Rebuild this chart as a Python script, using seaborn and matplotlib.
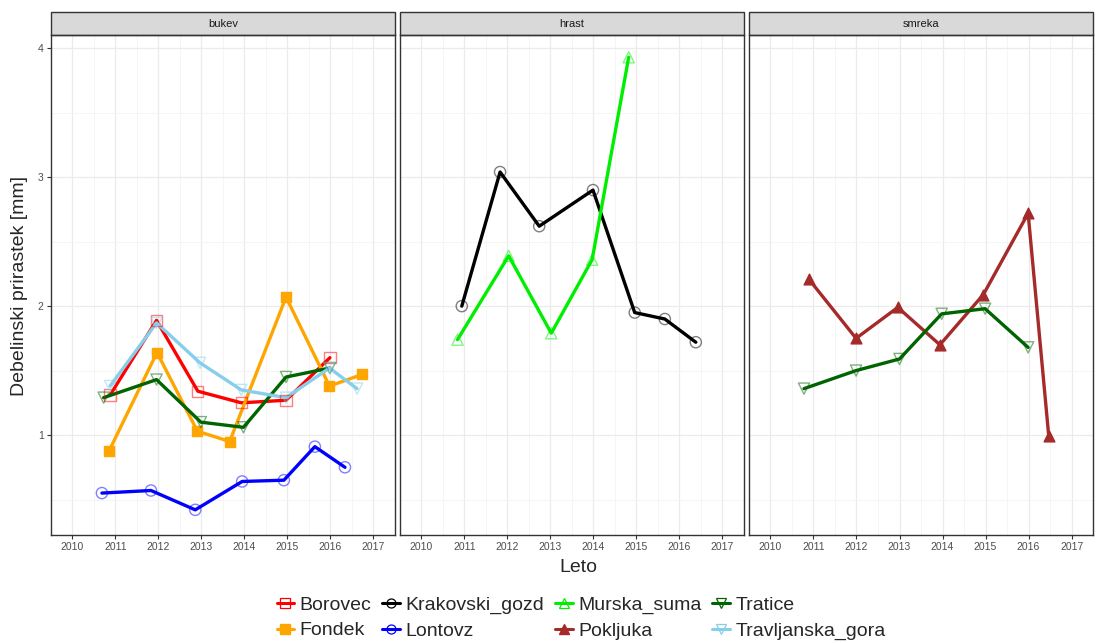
import pandas as pd
import matplotlib
matplotlib.use("Agg")
import matplotlib.pyplot as plt
from matplotlib.lines import Line2D
from matplotlib.patches import Rectangle
import seaborn as sns

# values (x = dodged year position)
borovec_x = [2010.88, 2011.96, 2012.92, 2013.93, 2014.97, 2015.99]
borovec_y = [1.31, 1.89, 1.34, 1.25, 1.27, 1.60]
fondek_x = [2010.86, 2011.97, 2012.91, 2013.66, 2014.97, 2015.98, 2016.74]
fondek_y = [0.88, 1.64, 1.03, 0.95, 2.07, 1.38, 1.47]
lontovz_x = [2010.69, 2011.83, 2012.86, 2013.95, 2014.92, 2015.64, 2016.34]
lontovz_y = [0.55, 0.57, 0.42, 0.64, 0.65, 0.91, 0.75]
tratice_b_x = [2010.73, 2011.96, 2012.99, 2013.98, 2014.97, 2015.99]
tratice_b_y = [1.29, 1.43, 1.10, 1.06, 1.45, 1.52]
travlj_x = [2010.88, 2011.96, 2012.97, 2013.93, 2014.97, 2015.98, 2016.62]
travlj_y = [1.38, 1.87, 1.56, 1.35, 1.29, 1.52, 1.36]
krakov_x = [2010.94, 2011.83, 2012.74, 2013.99, 2014.96, 2015.66, 2016.38]
krakov_y = [2.00, 3.04, 2.62, 2.90, 1.95, 1.90, 1.72]
murska_x = [2010.84, 2012.03, 2013.02, 2013.97, 2014.82]
murska_y = [1.74, 2.39, 1.79, 2.36, 3.93]
poklj_x = [2010.89, 2011.99, 2012.96, 2013.94, 2014.95, 2015.99, 2016.47]
poklj_y = [2.21, 1.75, 1.99, 1.70, 2.09, 2.72, 0.99]
tratice_s_x = [2010.78, 2011.99, 2013.00, 2013.98, 2014.99, 2015.99]
tratice_s_y = [1.36, 1.50, 1.59, 1.94, 1.98, 1.68]

vrste = ["bukev", "hrast", "smreka"]
series = [
    ("bukev", "Borovec", borovec_x, borovec_y),
    ("bukev", "Fondek", fondek_x, fondek_y),
    ("bukev", "Lontovz", lontovz_x, lontovz_y),
    ("bukev", "Tratice", tratice_b_x, tratice_b_y),
    ("bukev", "Travljanska_gora", travlj_x, travlj_y),
    ("hrast", "Krakovski_gozd", krakov_x, krakov_y),
    ("hrast", "Murska_suma", murska_x, murska_y),
    ("smreka", "Pokljuka", poklj_x, poklj_y),
    ("smreka", "Tratice", tratice_s_x, tratice_s_y),
]
rows = []
for vrsta, lok, xs, ys in series:
    for x, y in zip(xs, ys):
        rows.append({"vrsta": vrsta, "lokacija": lok, "leto": x, "prirastek": y})
df = pd.DataFrame(rows)

lokacije = ["Borovec", "Fondek", "Krakovski_gozd", "Lontovz",
            "Murska_suma", "Pokljuka", "Tratice", "Travljanska_gora"]
colors = {"Borovec": "red", "Fondek": "orange", "Krakovski_gozd": "black",
          "Lontovz": "blue", "Murska_suma": "#00ee00", "Pokljuka": "brown",
          "Tratice": "darkgreen", "Travljanska_gora": "skyblue"}
markers = {"Borovec": "s", "Fondek": "s", "Krakovski_gozd": "o", "Lontovz": "o",
           "Murska_suma": "^", "Pokljuka": "^", "Tratice": "v", "Travljanska_gora": "v"}
filled = {"Fondek", "Pokljuka"}

sns.set_style("white")
plt.rcParams["font.family"] = ["Liberation Sans", "DejaVu Sans"]

fig, axes = plt.subplots(1, 3, figsize=(11.03, 6.43), dpi=100, sharey=True)
plt.subplots_adjust(left=0.046, right=0.991, top=0.945, bottom=0.168, wspace=0.0145)

for i, (ax, vrsta) in enumerate(zip(axes, vrste)):
    sub = df[df["vrsta"] == vrsta]
    for lok in lokacije:
        d = sub[sub["lokacija"] == lok]
        if d.empty:
            continue
        c = colors[lok]
        sns.lineplot(data=d, x="leto", y="prirastek", color=c, lw=2.4,
                     sort=False, estimator=None, ax=ax, zorder=3)
        if lok in filled:
            sns.scatterplot(data=d, x="leto", y="prirastek", color=c, marker=markers[lok],
                            s=60, edgecolor=c, linewidth=1, ax=ax, zorder=4)
        else:
            sns.scatterplot(data=d, x="leto", y="prirastek", marker=markers[lok],
                            s=65, facecolor="none", edgecolor=c, linewidth=1.0,
                            alpha=0.5, ax=ax, zorder=4)
    ax.set_xlim(2009.65, 2017.25)
    ax.set_ylim(0.225, 4.10)
    ax.set_xticks(range(2010, 2018))
    ax.set_xticks([x + 0.5 for x in range(2009, 2018)], minor=True)
    ax.set_yticks([1, 2, 3, 4])
    ax.set_yticks([0.5, 1.5, 2.5, 3.5], minor=True)
    ax.grid(True, which="major", color="#ebebeb", lw=0.9, zorder=0)
    ax.grid(True, which="minor", color="#f4f4f4", lw=0.6, zorder=0)
    ax.set_axisbelow(True)
    for sp in ax.spines.values():
        sp.set_color("#333333")
        sp.set_linewidth(1.0)
    ax.tick_params(axis="both", which="major", length=3, width=0.8, color="#333333",
                   labelsize=7.5, labelcolor="#4d4d4d", bottom=True, left=(i == 0), pad=2)
    ax.tick_params(which="minor", length=0)
    ax.set_xlabel("")
    ax.set_ylabel("")
    # facet strip
    ax.add_patch(Rectangle((0, 1.0), 1, 0.046, transform=ax.transAxes, clip_on=False,
                           facecolor="#d9d9d9", edgecolor="#333333", lw=1.0))
    ax.text(0.5, 1.023, vrsta, transform=ax.transAxes, ha="center", va="center",
            fontsize=8, color="#1a1a1a")

fig.text(0.524, 0.118, "Leto", ha="center", va="center", fontsize=14)
fig.text(0.018, 0.555, "Debelinski prirastek [mm]", ha="center", va="center",
         rotation=90, fontsize=14)

handles = []
for lok in lokacije:
    c = colors[lok]
    if lok in filled:
        h = Line2D([], [], color=c, lw=2.2, marker=markers[lok], markersize=6.5,
                   markerfacecolor=c, markeredgecolor=c)
    else:
        h = Line2D([], [], color=c, lw=2.2, marker=markers[lok], markersize=6.5,
                   markerfacecolor="none", markeredgecolor=c, markeredgewidth=0.9)
    handles.append(h)
fig.legend(handles, lokacije, loc="lower center", bbox_to_anchor=(0.527, -0.022),
           ncol=4, frameon=False, fontsize=14, handlelength=0.9, handletextpad=0.3,
           columnspacing=0.55, labelspacing=0.4)

fig.savefig("out.png", dpi=100)
